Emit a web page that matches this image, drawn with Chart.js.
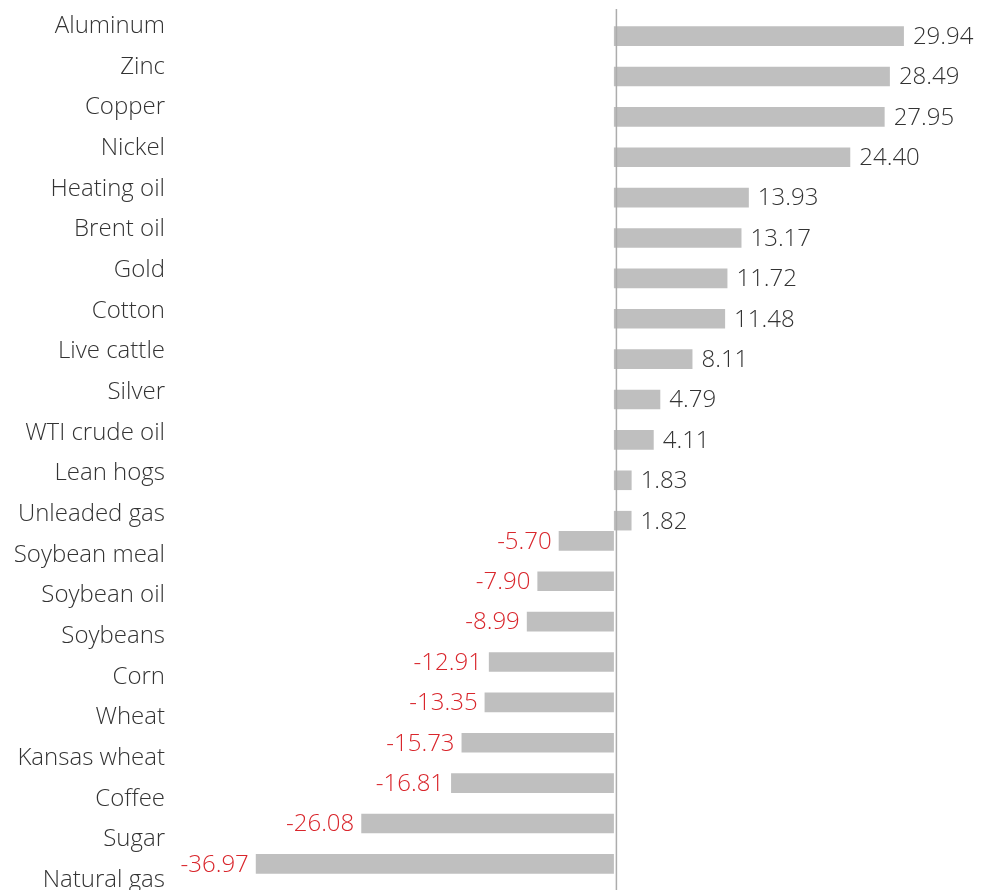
<!DOCTYPE html>
<html>
<head>
<meta charset="utf-8">
<script src="https://cdn.jsdelivr.net/npm/chart.js@4.4.1/dist/chart.umd.min.js"></script>
<style>
  html, body { margin: 0; padding: 0; background: #ffffff; }
  #wrap { width: 994px; height: 890px; }
</style>
</head>
<body>
<div id="wrap"><canvas id="chart"></canvas></div>
<script>
// Commodity price changes, percent
const categories = [
  'Aluminum', 'Zinc', 'Copper', 'Nickel', 'Heating oil', 'Brent oil', 'Gold',
  'Cotton', 'Live cattle', 'Silver', 'WTI crude oil', 'Lean hogs', 'Unleaded gas',
  'Soybean meal', 'Soybean oil', 'Soybeans', 'Corn', 'Wheat', 'Kansas wheat',
  'Coffee', 'Sugar', 'Natural gas'
];
const changes = [
  29.94, 28.49, 27.95, 24.40, 13.93, 13.17, 11.72,
  11.48, 8.11, 4.79, 4.11, 1.83, 1.82,
  -5.70, -7.90, -8.99, -12.91, -13.35, -15.73,
  -16.81, -26.08, -36.97
];
const losses = changes.map(v => (v < 0 ? v : null));
const gains = changes.map(v => (v >= 0 ? v : null));

const FONT = '"Open Sans", "Noto Sans", sans-serif';
const TEXT_DARK = '#333333';
const TEXT_RED = '#d9262c';
const BAR_GREY = '#bfbfbf';

// Value labels at the end of each bar, plus the zero line
const endLabels = {
  id: 'endLabels',
  afterDatasetsDraw(chart) {
    const ctx = chart.ctx;
    const x0 = chart.scales.x.getPixelForValue(0);
    ctx.save();
    ctx.strokeStyle = '#acacac';
    ctx.lineWidth = 1.5;
    ctx.beginPath();
    ctx.moveTo(x0 + 2.5, chart.chartArea.top - 17);
    ctx.lineTo(x0 + 2.5, chart.height);
    ctx.stroke();

    ctx.font = '300 24px ' + FONT;
    ctx.textBaseline = 'middle';
    chart.data.datasets.forEach((ds, di) => {
      const meta = chart.getDatasetMeta(di);
      meta.data.forEach((bar, i) => {
        const v = ds.data[i];
        if (v === null || v === undefined) return;
        const txt = v.toFixed(2);
        if (v >= 0) {
          ctx.fillStyle = TEXT_DARK;
          ctx.textAlign = 'left';
          ctx.fillText(txt, bar.x + 9, bar.y + 1);
        } else {
          ctx.fillStyle = TEXT_RED;
          ctx.textAlign = 'right';
          ctx.fillText(txt, bar.x - 7, bar.y + 1);
        }
      });
    });
    ctx.restore();
  }
};

new Chart(document.getElementById('chart'), {
  type: 'bar',
  data: {
    labels: categories,
    datasets: [
      { label: 'Losses', data: losses, backgroundColor: BAR_GREY, borderWidth: 0,
        categoryPercentage: 1, barPercentage: 0.97 },
      { label: 'Gains', data: gains, backgroundColor: BAR_GREY, borderWidth: 0,
        categoryPercentage: 1, barPercentage: 0.97 }
    ]
  },
  options: {
    indexAxis: 'y',
    responsive: true,
    maintainAspectRatio: false,
    animation: false,
    layout: { padding: { top: 26, bottom: 16, left: 0, right: 12 } },
    plugins: {
      legend: { display: false },
      tooltip: { enabled: false }
    },
    scales: {
      x: {
        display: false,
        min: -45,
        max: 38
      },
      // category axis that places the bars (hidden)
      y: {
        display: false,
        offset: false
      },
      // name column, spaced a little wider than the bar rows
      names: {
        type: 'linear',
        position: 'left',
        axis: 'y',
        reverse: true,
        offset: false,
        min: 0,
        max: 20.85,
        grid: { display: false, drawTicks: false, offset: false },
        border: { display: false },
        afterBuildTicks(scale) {
          scale.ticks = categories.map((_, i) => ({ value: i }));
        },
        afterFit(scale) {
          scale.width = 178;
          scale.paddingTop = 0;
          scale.paddingBottom = 0;
        },
        ticks: {
          padding: 13,
          color: TEXT_DARK,
          autoSkip: false,
          font: { family: FONT, size: 24, weight: 300 },
          callback: (v) => categories[Math.round(v)]
        }
      }
    }
  },
  plugins: [endLabels]
});
</script>
</body>
</html>
